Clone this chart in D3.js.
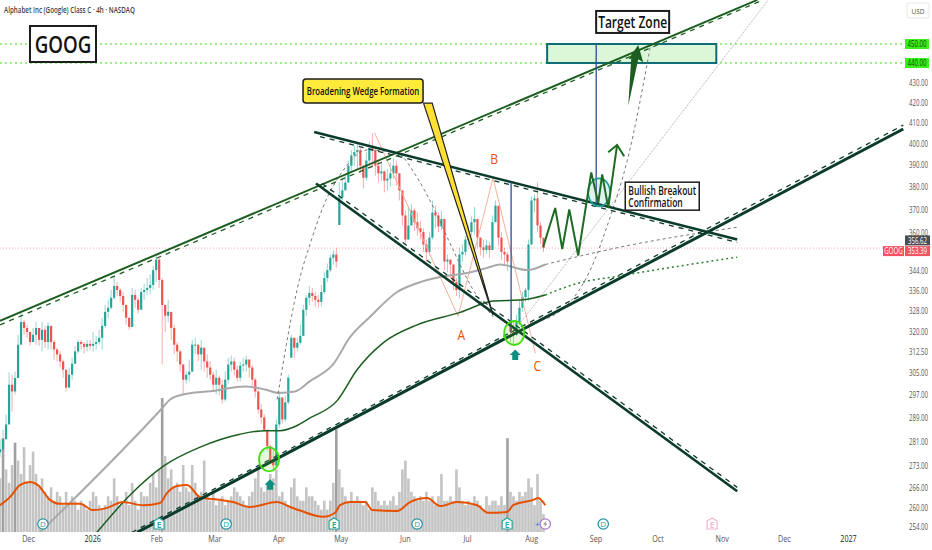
<!DOCTYPE html>
<html>
<head>
<meta charset="utf-8">
<script src="https://cdn.jsdelivr.net/npm/d3@7"></script>
<style>
  html, body { margin: 0; padding: 0; background: #fff; overflow: hidden; }
  text { font-family: "Open Sans", sans-serif; }
</style>
</head>
<body>
<div id="chart"></div>
<script>
// Candles, one every 35 hours or so
var closes = [
  278.5,281.8,286.8,300.6,298.2,303,315.2,323.8,321.5,320,
  316.2,318.9,321.5,317,320.8,316.2,322.3,316.2,313.4,311.6,
  309,306,299.6,304.2,308.2,312.7,316.2,315.5,314.4,315.5,
  314.8,315.5,316.2,317.8,322.3,327.7,329.3,333.2,337.9,336.3,
  333.9,330.4,325.4,321.9,334.3,332.4,328.5,335.5,336.3,337.1,
  338.3,344.3,348.6,340.3,330.4,326.2,327.7,321.5,315.2,312.7,
  307.9,302.4,304.2,305.3,315.2,315.2,311.6,314.1,309,306.8,
  304.2,300.6,303.1,300.6,295.4,302.4,307.9,309,306,303.1,
  307.5,307.9,309.7,306.8,302.4,298.2,291.9,289.2,285,279.5,
  274.5,273.2,286.8,296.1,288.5,294.4,303.1,317.8,314.1,315.9,
  318.5,328.5,333.2,335.1,333.9,332.4,331.6,335.5,341.1,344.3,
  349.4,350.7,347.8,375.2,378.4,381.9,389.6,394.4,395.9,396.9,
  389.6,384.1,392,397.9,396.9,389.6,386.1,387,382.8,383.7,
  386.1,389.6,386.1,378.4,367.3,357,363,369.5,364.4,361.8,
  360.2,354.9,351.8,357.8,368.6,367.3,362.6,365.8,347.8,348.6,
  346.6,339.5,336.3,350.7,351.8,357,360.2,364.4,365.8,357.8,
  353.7,352.6,354.5,352.6,364.4,371.6,357.8,351.8,350.7,347.8,
  320,318.9,323.8,329.3,333.5,336.3,354.9,373.9,374.8,363,
  357.8,353.39
];
var highs = [
  281.8,285,290.2,305,304.2,305.3,318.9,327.3,324.6,322.7,
  318.5,321.5,323.8,320,323.8,322.3,323.8,318.9,317,314.1,
  312.7,309.7,305.3,306.8,310.4,314.8,317,317,316.2,317,
  317,320,318.5,320.8,325.4,330.4,332.4,336.3,342,339.5,
  337.1,335.5,330.4,325.4,337.1,336.3,333.2,337.1,338.7,341.1,
  342.4,346,350.3,349.4,341.1,330.4,332.4,325.4,322.7,316.2,
  313.4,307.9,305.3,309.7,317,317.8,315.2,317,312.7,311.6,
  309,305.3,306,303.9,302.4,305.3,310.4,311.2,310.4,307.5,
  309,310.4,311.2,309.7,307.5,303.1,298.9,293.7,290.2,285,
  280.1,278.5,288.5,298.2,296.1,296.8,304.2,318.9,317,317.8,
  322.7,330.4,334.3,337.9,337.1,335.5,334.3,338.3,343.5,347,
  350.7,352.6,353.5,381.9,383.7,385,392,396.9,398.9,399.9,
  397.9,389.6,395.9,400.9,404.9,397.9,392,391,387.4,388.1,
  391,393,392,386.1,376.5,369.5,371.6,372.3,370.4,368.6,
  365,361.8,357,360.2,373.9,371.6,368.6,369.5,358.6,350.7,
  348.6,345.4,341.1,353.5,354.9,358.6,362.6,366.9,371.1,363,
  357.8,357,357,356,367.3,373.9,369.5,360.2,353.5,351.8,
  324.6,323.8,326.6,332.4,335.5,337.1,357,375.7,376.5,381.9,
  364.4,357
];
var lows = [
  275.9,278,284.4,288.5,291.2,297.2,310.4,320,318.9,317.8,
  314.8,316.2,315.2,314.8,312.7,314,313.4,313.4,309.7,309,
  306.8,303.1,298.2,300.2,302.4,308.2,311.9,313.4,311.9,312.7,
  313.4,312.7,313.4,315.2,313.4,321.5,325.4,328.5,332.4,333.9,
  331.6,327.7,322.7,320.8,327.7,329.3,327,330.4,332.4,334.3,
  334.7,336.3,339.5,337.1,307.9,320,323.8,317,311.6,309,
  305.3,297.2,301,301.7,305.3,311.6,309,306,305.3,303.1,
  302.4,298.2,297.2,296.8,294,294.7,301,305.3,303.9,301.7,
  301.7,305.3,305.3,303.1,299.6,296.1,290.5,287.1,284.4,277.9,
  273.9,272,272.6,285.7,287.1,287.8,293.7,310.4,310.4,312.7,
  315.2,322.7,326.2,330.4,331.6,329.7,329.3,329.7,334.7,339.5,
  343.5,346.6,345.4,363.2,373.9,378.4,383.7,386.5,389.6,388.6,
  386.5,379.2,382.8,389.6,388.6,385,382,382.8,377.5,378.4,
  380,383.7,380.4,373.9,363,354.9,357,363,360.6,358.6,
  357,351.8,347.8,350.3,357,361.8,360.2,361,344.3,343.5,
  341.1,336.3,333.9,333,347.8,350.3,354.5,358.6,359,353.7,
  350.3,349.4,351,349.4,352.6,365.8,354.5,348.6,346.6,343.9,
  316.2,315.2,318.5,323.8,327.7,331.6,332,354.9,368.6,360.2,
  355.3,351.8
];
// Opens follow the previous close, except right after a price gap
var gapOpens = { 97: 310.4, 113: 363.2, 170: 322.7 };

// Volume in millions, same candles
var volumes = [
  12,21,14,11,15,20,16,13,19,11,
  15,18,13,10,12,9,8,10,7,9,
  8,6,9,6,8,7,5,7,6,5,
  7,9,8,6,5,6,8,7,12,8,
  6,7,9,6,11,7,5,9,8,8,
  11,13,10,14,30,17,12,14,10,11,
  9,15,10,9,15,11,8,9,16,8,
  7,9,6,7,8,6,7,8,10,9,
  8,7,6,8,9,12,14,10,9,11,
  13,12,14,8,9,7,6,10,12,8,
  7,7,10,8,8,7,6,5,7,5,
  7,11,23,14,10,8,7,9,7,8,
  7,6,7,5,10,9,7,6,7,6,
  7,8,6,9,14,16,12,9,8,7,
  8,7,9,7,8,6,8,13,7,7,
  8,7,14,10,7,6,7,6,8,7,
  6,5,8,6,7,7,6,8,6,21,
  9,8,7,9,8,9,12,10,6,13,
  7,4
];
var volMaDays = [-13.5,-8.7,-3.9,1,4.8,10.6,15.5,25.1,31.4,38.2,45.9,55.6,63.8,67.1,72,76.8,83.1,92.8,99,107.2,120.3,126.6,131.4,142.5,148.3,150.7,155.6,162.8,166.2,178.3,184.5,192.8,199,207.2,216.9,222.2,231.4,234.3,244,246.4,249.8];
var volMaValues = [6,7.8,10.5,11.2,10.5,7.2,6.3,6.3,4.9,5.4,6.7,6,6.5,8.7,10.3,10.5,7.8,7.2,6.7,5.6,6.7,5.6,4.8,3.4,4.3,6,6.7,6.7,4.9,4.7,6.7,7.6,5.8,6.7,6,4.3,4.5,6,7.2,7.6,6];

// Moving averages and their projections, [days from 1 Dec 2025, price]
var grayMa = [[5.8,252.4],[65.2,292.7],[68.6,295.4],[75.8,297.3],[90.3,298.5],[104.8,300],[114.5,298.9],[120.8,297.7],[129,298.2],[136.2,301.9],[147.3,307.9],[155.6,318.1],[165.2,325.8],[178.3,335.5],[187.9,339],[199,341.5],[212,343.1],[221.7,345.2],[228,346.6],[241,344.3],[249.8,346.6]];
var grayMaProjection = [[249.8,346.6],[286,353.8],[342.5,362.2]];
var greenMa = [[33.3,252.4],[49.3,263.8],[65.2,272.9],[83.1,279.2],[102.4,283.5],[114.5,284.7],[121.7,284.7],[129,286.1],[136.2,289],[149.3,295],[158.9,306],[171.5,315.9],[187.9,322.7],[208.7,327.5],[224.6,331.9],[239.1,332.4],[249.8,334.3]];
var greenMaProjection = [[249.8,334.3],[265.2,338.9],[286,342],[342.5,349.6]];

// Drawn trend lines
var channelLine = [[-13.5,324.2],[352.2,474.1]];
var channelDash = [[-13.5,322.7],[355,474.1]];
var supportLine = [[52.7,252.4],[422.7,406.9]];
var supportDash = [[50.2,252.4],[422.7,408.8]];
var wedgeTop = [[138.2,405.5],[342.5,357]];
var wedgeTopDash = [[141,403.3],[342.5,355.8]];
var wedgeBottom = [[139.1,381.5],[342.5,265]];
var wedgeBottomDash = [[142,381.5],[342.5,266.2]];
var dashedArc = [[120.3,295.4],[131.4,341.5],[136.2,355],[142.5,371],[152.2,387.4],[163.8,396.9],[178.3,395.4],[187.9,384.2],[195.7,371],[205.3,352.6],[215,336.3],[224.6,325.8]];
var dashedRise = [[242.5,323.2],[260.4,330.4],[271.5,344.3],[281.2,366.8],[289.4,392],[300.5,448.4]];
var dottedRise = [[235.3,320.8],[357.5,474.1]];
var abcPath = [[167.4,405],[207.7,326],[224.6,384],[245,312]];
var measureA = [[233.3,382],[233.3,319.6]];
var measureB = [[274.4,450],[274.4,372.6]];
var projectedPath = [[248.8,353.9],[254.6,370.6],[258,353],[261.4,369.9],[265.7,350.3],[272,386.5],[275.4,372.8],[277.3,385.6],[280.2,370.6],[284.5,399.3]];
var projectedHead = [[280.2,395.9],[284.5,399.3],[287.9,394]];
var bigArrow = [[289.9,418.4],[291.3,442.3],[289.9,442],[294.7,449.5],[297.1,440.4],[294.7,442]];
var calloutArrow = [[191,419.6],[195.2,419.6],[224.6,326.4]];
var targetDays = [250.7,332.4];
var targetPrices = [450,440];
var circles = [
  { day: 116.4, price: 275.2, kind: "lime" },
  { day: 234.8, price: 319.6, kind: "lime" },
  { day: 275.8, price: 377.5, kind: "teal" }
];
var upArrows = [[116.9,268.8],[235.3,313.4]];

// Text on the chart
var abcLabels = [["A",209.2,318.9],["B",225.1,392.7],["C",245.9,307.3]];

// Dividend / earnings / split markers
var eventDays = [7.2,63.3,95.7,147.8,187.9,231.4,249.8,277.8,330.4];
var eventKinds = ["D","E","D","E","D","E","S","D","F"];

// Axes
var priceTicks = [430,420,410,400,390,380,370,360,344,336,328,320,312.5,305,297,289,281,273,266,260,254];
var monthTicks = ["2025-12-01","2026-01-01","2026-02-01","2026-03-01","2026-04-01","2026-05-01","2026-06-01","2026-07-01","2026-08-01","2026-09-01","2026-10-01","2026-11-01","2026-12-01","2027-01-01"];
var monthNames = ["Dec","2026","Feb","Mar","Apr","May","Jun","Jul","Aug","Sep","Oct","Nov","Dec","2027"];
var lastPrice = 353.39;
var prevPrice = 356.62;

var width = 932, height = 550;
var paneRight = 905, paneBottom = 532;
var baseDate = new Date(2025, 11, 1);
var firstBar = new Date(2025, 10, 17, 12);

function day(n) { return new Date(+baseDate + n * 864e5); }

var x = d3.scaleTime().domain([day(0), day(396)]).range([28, 848]);
var y = d3.scaleLog().domain([254, 450]).range([527, 44]);
var volY = d3.scaleLinear().domain([0, 30]).range([paneBottom, 398]);

var bars = closes.map(function(c, i) {
    return {
        date: d3.timeMinute.offset(firstBar, i * 2088),
        open: gapOpens[i] !== undefined ? gapOpens[i] : (i ? closes[i - 1] : c - 1),
        close: c,
        high: highs[i],
        low: lows[i],
        volume: volumes[i]
    };
});

var svg = d3.select("#chart").append("svg")
    .attr("width", width)
    .attr("height", height)
    .style("display", "block");

svg.append("clipPath").attr("id", "pane")
    .append("rect").attr("width", paneRight).attr("height", paneBottom);

var pane = svg.append("g").attr("clip-path", "url(#pane)");

var line = d3.line()
    .x(function(d) { return x(day(d[0])); })
    .y(function(d) { return y(d[1]); });
var smooth = d3.line()
    .x(function(d) { return x(day(d[0])); })
    .y(function(d) { return y(d[1]); })
    .curve(d3.curveMonotoneX);

// Squeeze text sideways, the picture is narrower than the installed fonts
function squeeze(sel, k) {
    sel.each(function() {
        var t = d3.select(this);
        t.attr("x", (+t.attr("x") || 0) / k).attr("transform", "scale(" + k + ",1)");
    });
}

// Volume bars
pane.selectAll(".vol")
    .data(bars)
    .enter().append("rect")
    .attr("class", "vol")
    .attr("x", function(d) { return x(d.date) - 1.3; })
    .attr("width", 2.6)
    .attr("y", function(d) { return volY(d.volume); })
    .attr("height", function(d) { return paneBottom - volY(d.volume); })
    .style("fill", function(d) { return d.volume > 19 ? "#a0a0a0" : "#c4c4c4"; });

// Horizontal levels
targetPrices.forEach(function(p) {
    pane.append("line")
        .attr("x1", 0).attr("x2", paneRight)
        .attr("y1", y(p)).attr("y2", y(p))
        .style("stroke", "#3be01a")
        .style("stroke-width", 1.2)
        .style("stroke-dasharray", "2,3");
});
pane.append("line")
    .attr("x1", 0).attr("x2", paneRight)
    .attr("y1", y(lastPrice)).attr("y2", y(lastPrice))
    .style("stroke", "#f7a8a8")
    .style("stroke-width", 1)
    .style("stroke-dasharray", "1,2");

// Candles
function candleColor(d) { return d.close >= d.open ? "#26a69a" : "#ef5350"; }
pane.selectAll(".wick")
    .data(bars)
    .enter().append("line")
    .attr("class", "wick")
    .attr("x1", function(d) { return x(d.date); })
    .attr("x2", function(d) { return x(d.date); })
    .attr("y1", function(d) { return y(d.high); })
    .attr("y2", function(d) { return y(d.low); })
    .style("stroke", candleColor)
    .style("stroke-opacity", 0.6)
    .style("stroke-width", 0.8);
pane.selectAll(".body")
    .data(bars)
    .enter().append("rect")
    .attr("class", "body")
    .attr("x", function(d) { return x(d.date) - 1.1; })
    .attr("width", 2.2)
    .attr("y", function(d) { return Math.min(y(d.open), y(d.close)); })
    .attr("height", function(d) { return Math.max(1, Math.abs(y(d.open) - y(d.close))); })
    .style("fill", candleColor);

// Target zone box
pane.append("rect")
    .attr("x", x(day(targetDays[0])))
    .attr("width", x(day(targetDays[1])) - x(day(targetDays[0])))
    .attr("y", y(targetPrices[0]))
    .attr("height", y(targetPrices[1]) - y(targetPrices[0]))
    .style("fill", "#dcf7d8")
    .style("stroke", "#0f6b74")
    .style("stroke-width", 2);

// ABC swing lines
pane.append("path").attr("d", line(abcPath))
    .style("fill", "none").style("stroke", "#f7b199").style("stroke-width", 1);

// Helper for the plain drawn lines
function addLine(points, gen, color, w, dash) {
    pane.append("path")
        .attr("d", gen(points))
        .style("fill", "none")
        .style("stroke", color)
        .style("stroke-width", w)
        .style("stroke-dasharray", dash || null);
}

// Moving averages
addLine(grayMa, smooth, "#a9a9a9", 2);
addLine(grayMaProjection, smooth, "#777", 1, "3,3");
addLine(greenMa, smooth, "#1b5e20", 1.5);
addLine(greenMaProjection, smooth, "#2e7d32", 1.5, "2,3");

// Volume average
pane.append("path")
    .datum(volMaDays.map(function(d, i) { return [d, volMaValues[i]]; }))
    .attr("d", d3.line()
        .x(function(d) { return x(day(d[0])); })
        .y(function(d) { return volY(d[1]); })
        .curve(d3.curveMonotoneX))
    .style("fill", "none")
    .style("stroke", "#e65100")
    .style("stroke-width", 2);

// Curved guides
addLine(dashedArc, smooth, "#777", 1, "3,3");
addLine(dashedRise, smooth, "#777", 1, "3,3");
addLine(dottedRise, line, "#aaa", 1, "1,1");

// Trend lines
addLine(channelLine, line, "#1b5e20", 2);
addLine(channelDash, line, "#1b5e20", 1.3, "5,5");
addLine(supportLine, line, "#0b3b2a", 3);
addLine(supportDash, line, "#0b3b2a", 1.3, "5,5");
addLine(wedgeTop, line, "#0b3b2a", 2.6);
addLine(wedgeTopDash, line, "#0b3b2a", 1.3, "5,5");
addLine(wedgeBottom, line, "#0b3b2a", 2.6);
addLine(wedgeBottomDash, line, "#0b3b2a", 1.3, "5,5");

// Measured moves
addLine(measureA, line, "#2a4b9b", 1.3);
addLine(measureB, line, "#2a4b9b", 1.3);

// Ellipses on the key touches
pane.selectAll(".touch")
    .data(circles)
    .enter().append("ellipse")
    .attr("class", "touch")
    .attr("cx", function(d) { return x(day(d.day)); })
    .attr("cy", function(d) { return y(d.price); })
    .attr("rx", function(d) { return d.kind === "lime" ? 10 : 11; })
    .attr("ry", function(d) { return d.kind === "lime" ? 12 : 14; })
    .style("fill", function(d) { return d.kind === "lime" ? "#4cd91a" : "#26a69a"; })
    .style("fill-opacity", 0.15)
    .style("stroke", function(d) { return d.kind === "lime" ? "#44dd11" : "#1f9e94"; })
    .style("stroke-width", 1.8);

// Projected path and big arrow
addLine(projectedPath, line, "#1f6b24", 2);
addLine(projectedHead, line, "#1f6b24", 2);
pane.append("path")
    .attr("d", line(bigArrow) + "Z")
    .style("fill", "#1b5e20");

// Callout wedge
pane.append("path")
    .attr("d", line(calloutArrow) + "Z")
    .style("fill", "#ffe033")
    .style("stroke", "#222")
    .style("stroke-width", 1.2);

// Teal arrows under the touches
pane.selectAll(".up")
    .data(upArrows)
    .enter().append("path")
    .attr("class", "up")
    .attr("transform", function(d) { return "translate(" + x(day(d[0])) + "," + y(d[1]) + ")"; })
    .attr("d", "M0,0L5.5,5.5L3,5.5L3,10.5L-3,10.5L-3,5.5L-5.5,5.5Z")
    .style("fill", "#0f8f7f");

// A B C
pane.selectAll(".abc")
    .data(abcLabels)
    .enter().append("text")
    .attr("class", "abc")
    .attr("x", function(d) { return x(day(d[1])); })
    .attr("y", function(d) { return y(d[2]); })
    .attr("dy", ".35em")
    .attr("text-anchor", "middle")
    .style("font-size", "15px")
    .style("fill", "#e65100")
    .text(function(d) { return d[0]; })
    .call(squeeze, 0.8);

// Boxed notes
function addNote(dayPos, price, lines, w, h, opts) {
    var cx = x(day(dayPos)), cy = y(price);
    var g = svg.append("g").attr("transform", "translate(" + cx + "," + cy + ")");
    g.append("rect")
        .attr("x", -w / 2).attr("y", -h / 2)
        .attr("width", w).attr("height", h)
        .attr("rx", opts.rx || 0)
        .style("fill", opts.fill || "#fff")
        .style("stroke", "#1d1d1d")
        .style("stroke-width", opts.border || 1.5);
    g.selectAll("text")
        .data(lines)
        .enter().append("text")
        .attr("x", opts.left ? -w / 2 + 3 : 0)
        .attr("y", function(d, i) { return (i - (lines.length - 1) / 2) * opts.leading; })
        .attr("dy", ".36em")
        .attr("text-anchor", opts.left ? "start" : "middle")
        .style("font-size", opts.size + "px")
        .style("font-weight", opts.weight || 400)
        .style("fill", "#111")
        .text(function(d) { return d; })
        .call(squeeze, opts.k);
}
addNote(16.9, 450, ["GOOG"], 66, 36, { size: 24, weight: 600, k: 0.78, border: 2 });
addNote(292, 461.9, ["Target Zone"], 73, 22, { size: 16, weight: 600, k: 0.75, border: 2 });
addNote(306.3, 375.8, ["Bullish Breakout", "Confirmation"], 74, 28, { size: 12, weight: 600, k: 0.71, left: true, leading: 12 });
addNote(161.8, 425.6, ["Broadening Wedge Formation"], 120, 24, { size: 11.5, weight: 600, k: 0.68, fill: "#ffeb3b", rx: 3 });

// Event markers along the bottom
var markerY = 524;
var events = svg.selectAll(".event")
    .data(eventDays)
    .enter().append("g")
    .attr("class", "event")
    .attr("transform", function(d) { return "translate(" + x(day(d)) + "," + markerY + ")"; });
events.each(function(d, i) {
    var g = d3.select(this), kind = eventKinds[i];
    if (kind === "E" || kind === "F") {
        var c = kind === "E" ? "#26a69a" : "#f2b6d0";
        g.append("path")
            .attr("d", "M-5,-3L0,-6L5,-3L5,5L-5,5Z")
            .style("fill", "#fff").style("stroke", c).style("stroke-width", 1.2);
        g.append("text").attr("text-anchor", "middle").attr("y", 3.5)
            .style("font-size", "8.5px").style("font-weight", 600).style("fill", c).text("E");
    } else if (kind === "D") {
        g.append("circle").attr("r", 5.2)
            .style("fill", "#fff").style("stroke", "#1f8fa0").style("stroke-width", 1.2);
        g.append("text").attr("text-anchor", "middle").attr("y", 3)
            .style("font-size", "8px").style("fill", "#26a69a").text("D");
    } else {
        g.append("circle").attr("r", 5.2)
            .style("fill", "#fff").style("stroke", "#a678c8").style("stroke-width", 1.2);
        g.append("path").attr("d", "M1,-3.5L-2,0.5L0,0.5L-1,3.5L2,-0.5L0,-0.5Z").style("fill", "#888");
        g.append("text").attr("x", -8).attr("y", 3)
            .attr("text-anchor", "middle")
            .style("font-size", "8px").style("fill", "#2962ff").text("+");
    }
});

// Time axis
var xAxis = d3.axisBottom(x)
    .tickValues(monthTicks.map(function(d) { return d3.timeParse("%Y-%m-%d")(d); }))
    .tickFormat(function(d, i) { return monthNames[i]; })
    .tickSize(0)
    .tickPadding(4);
var xg = svg.append("g").attr("transform", "translate(0," + paneBottom + ")").call(xAxis);
xg.select(".domain").remove();
xg.selectAll("text")
    .style("font-size", "9px")
    .style("font-family", '"Open Sans", sans-serif')
    .style("fill", function(d, i) { return (i === 1 || i === 13) ? "#222" : "#555"; })
    .call(squeeze, 0.8);

// Price axis
var yAxis = d3.axisRight(y)
    .tickValues(priceTicks)
    .tickFormat(d3.format(".2f"))
    .tickSize(0)
    .tickPadding(4);
var yg = svg.append("g").attr("transform", "translate(" + paneRight + ",0)").call(yAxis);
yg.select(".domain").remove();
yg.selectAll("text")
    .style("font-size", "9px")
    .style("font-family", '"Open Sans", sans-serif')
    .style("fill", "#555")
    .call(squeeze, 0.68);

// Price tags on the axis
function priceTag(px, left, w, h, label, bg, fg) {
    svg.append("rect").attr("x", left).attr("y", px - h / 2)
        .attr("width", w).attr("height", h).style("fill", bg);
    svg.append("text").attr("x", left + w / 2).attr("y", px).attr("dy", ".36em")
        .attr("text-anchor", "middle")
        .style("font-size", "9px").style("fill", fg)
        .text(label)
        .call(squeeze, 0.68);
}
targetPrices.forEach(function(p) {
    priceTag(y(p), paneRight, 24, 10, d3.format(".2f")(p), "#39f01a", "#1b3a10");
});
priceTag(y(prevPrice), paneRight, 25, 10, d3.format(".2f")(prevPrice), "#4a4e52", "#fff");
priceTag(y(lastPrice) + 3, paneRight, 25, 10, d3.format(".2f")(lastPrice), "#f7525f", "#fff");
priceTag(y(lastPrice) + 3, 883, 21, 10, "GOOG", "#f7525f", "#fff");

// USD box
svg.append("rect").attr("x", 907).attr("y", 3).attr("width", 22).attr("height", 15).attr("rx", 2)
    .style("fill", "#fff").style("stroke", "#e6e6e6");
svg.append("text").attr("x", 918).attr("y", 11).attr("dy", ".36em").attr("text-anchor", "middle")
    .style("font-size", "8px").style("fill", "#555").text("USD").call(squeeze, 0.8);

// Title
svg.append("text").attr("x", 4).attr("y", 10).attr("dy", ".36em")
    .style("font-size", "9px").style("font-weight", 600).style("fill", "#3a3f47")
    .text("Alphabet Inc (Google) Class C · 4h · NASDAQ")
    .each(function() {
        var k = 131 / this.getComputedTextLength();
        d3.select(this).call(squeeze, k);
    });
</script>
</body>
</html>
